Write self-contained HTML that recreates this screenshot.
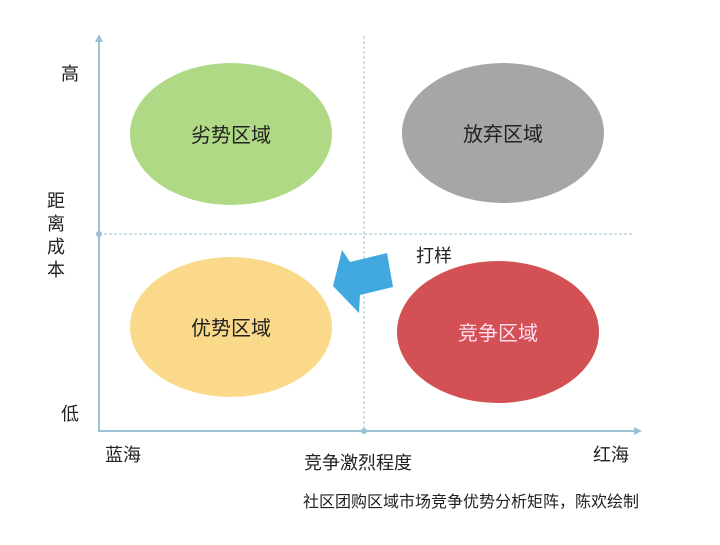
<!DOCTYPE html>
<html><head><meta charset="utf-8"><style>
body{margin:0;width:720px;height:540px;background:#fff;overflow:hidden}
svg text{font-family:"Liberation Sans","Noto Sans CJK SC",sans-serif}
</style></head><body>
<svg width="720" height="540" viewBox="0 0 720 540">
<line x1="364" y1="36" x2="364" y2="431" stroke="#9cc0d6" stroke-width="1" stroke-dasharray="3,2"/>
<line x1="99" y1="234" x2="632" y2="234" stroke="#9cc0d6" stroke-width="1" stroke-dasharray="3,2"/>
<line x1="99" y1="38" x2="99" y2="432" stroke="#9cc0d6" stroke-width="2"/>
<polygon points="99,34 95,42 103,42" fill="#9cc0d6"/>
<line x1="98" y1="431" x2="636" y2="431" stroke="#9cc0d6" stroke-width="2"/>
<polygon points="642,431 634,427 634,435" fill="#9cc0d6"/>
<circle cx="99" cy="234" r="3" fill="#9cc0d6"/>
<circle cx="364" cy="431" r="3" fill="#9cc0d6"/>
<ellipse cx="231" cy="134" rx="101" ry="71" fill="#b0d985"/>
<ellipse cx="503" cy="133" rx="101" ry="70" fill="#a6a6a6"/>
<ellipse cx="231" cy="327" rx="101" ry="70" fill="#fbd98a"/>
<ellipse cx="498" cy="332" rx="101" ry="71" fill="#d35055"/>
<polygon points="333,286 342,250 350,262 387,253 393,287 360,295 359,313" fill="#41a9e0"/>
<g font-size="20" text-anchor="middle">
<text x="231" y="142" fill="#222">劣势区域</text>
<text x="503" y="141" fill="#222">放弃区域</text>
<text x="231" y="335" fill="#222">优势区域</text>
<text x="498" y="340" fill="#fde">竞争区域</text>
</g>
<g font-size="18" fill="#222">
<text x="61" y="80">高</text>
<text x="61" y="420">低</text>
<text x="47" y="207">距</text>
<text x="47" y="230">离</text>
<text x="47" y="253">成</text>
<text x="47" y="276">本</text>
<text x="416" y="262">打样</text>
<text x="105" y="461">蓝海</text>
<text x="593" y="461">红海</text>
<text x="304" y="469">竞争激烈程度</text>
<text x="303" y="507" font-size="16">社区团购区域市场竞争优势分析矩阵，陈欢绘制</text>
</g>
</svg>
</body></html>
